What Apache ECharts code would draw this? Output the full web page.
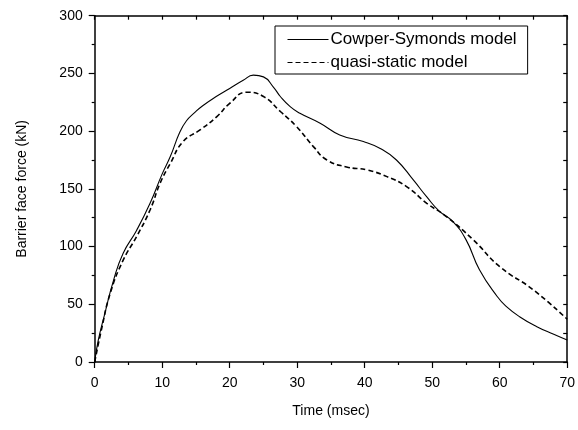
<!DOCTYPE html>
<html><head><meta charset="utf-8">
<script src="https://cdn.jsdelivr.net/npm/echarts@6/dist/echarts.min.js"></script>
<style>html,body{margin:0;padding:0;background:#fff}#c{width:578px;height:430px}</style>
</head><body><div id="c"></div>
<script>
const seriesNames = ["Cowper-Symonds model", "quasi-static model"];
const csTime = [0,0.5,1.5,2.8,4.2,6.2,8.2,10,11.2,12.6,13.6,14.8,16,18,20,22,23.5,25,26.5,27.5,29,30.4,33.4,36.3,39.8,42.3,44.7,47.2,49.2,51,53,55,57,59.6,61,63,65.5,68,70];
const csForce = [0,18,42,71,94,114,137.5,163,178,199,209,216,222,230,237,244,248.5,247,238,230,221,215.5,206.8,196.7,191,185,175,157.7,143,131,122,106,80,57,48,39,30.6,24,19];
const qsTime = [0,1,2.3,4.2,6.2,8.2,9.7,11.2,13.1,15.6,18.1,20,22.5,25,27.5,29.9,32.4,34.4,37.3,40.3,43.3,46.2,49.2,52.1,56.1,60,65,70];
const qsForce = [0,28,59.5,88,108.6,131.7,155,172,191,201,212.6,224,233.7,230,217,204,186.6,175,169,166.4,160.6,152,137.5,126,105.7,82.6,62.4,37];
const xTicks = {min:0, max:70, interval:10};
const yTicks = {min:0, max:300, interval:50};

const zip = (a,b)=>a.map((v,i)=>[v,b[i]]);
const font = 'Liberation Sans, Arial, sans-serif';
const chart = echarts.init(document.getElementById('c'));
const axisLine = {show:true, onZero:false, lineStyle:{color:'#000', width:1.5}};
chart.setOption({
  animation:false,
  backgroundColor:'#fff',
  grid:{left:94.7, right:10.7, top:15.7, bottom:68},
  legend:{
    data:seriesNames, orient:'vertical', left:275, top:26,
    padding:[5,11,3,12], itemGap:6, itemWidth:41, itemHeight:14,
    borderColor:'#000', borderWidth:1, borderRadius:0,
    itemStyle:{opacity:0},
    lineStyle:{width:1},
    textStyle:{fontFamily:font, fontSize:17, color:'#000', padding:[0,0,0,-3]}
  },
  xAxis:[{
    type:'value', min:xTicks.min, max:xTicks.max, interval:xTicks.interval,
    name:'Time (msec)', nameLocation:'middle', nameGap:42,
    nameTextStyle:{fontFamily:font, fontSize:14, color:'#000'},
    axisLine:axisLine, axisTick:{show:true, inside:false, length:6, lineStyle:{color:'#000', width:1.2}},
    minorTick:{show:true, splitNumber:2, length:3, lineStyle:{color:'#000', width:1.2}},
    axisLabel:{fontFamily:font, fontSize:14, color:'#000', margin:14},
    splitLine:{show:false}
  },{
    type:'value', position:'top', min:0, max:70, interval:5,
    axisLine:axisLine, axisTick:{show:true, inside:true, length:4, lineStyle:{color:'#000', width:1.2}},
    axisLabel:{show:false}, splitLine:{show:false}
  }],
  yAxis:[{
    type:'value', min:yTicks.min, max:yTicks.max, interval:yTicks.interval,
    name:'Barrier face force (kN)', nameLocation:'middle', nameGap:66,
    nameTextStyle:{fontFamily:font, fontSize:14, color:'#000'},
    axisLine:axisLine, axisTick:{show:true, inside:false, length:6, lineStyle:{color:'#000', width:1.2}},
    minorTick:{show:true, splitNumber:2, length:3, lineStyle:{color:'#000', width:1.2}},
    axisLabel:{fontFamily:font, fontSize:14, color:'#000', margin:12},
    splitLine:{show:false}
  },{
    type:'value', position:'right', min:0, max:300, interval:25,
    axisLine:axisLine, axisTick:{show:true, inside:true, length:4, lineStyle:{color:'#000', width:1.2}},
    axisLabel:{show:false}, splitLine:{show:false}
  }],
  series:[{
    name:seriesNames[0], type:'line', smooth:0.5, symbol:'none',
    data:zip(csTime, csForce),
    lineStyle:{color:'#000', width:1.1, type:'solid'}, itemStyle:{color:'#000'}
  },{
    name:seriesNames[1], type:'line', smooth:0.5, symbol:'none',
    data:zip(qsTime, qsForce),
    lineStyle:{color:'#000', width:1.6, type:[5,3]}, itemStyle:{color:'#000'}
  }]
});
</script></body></html>
